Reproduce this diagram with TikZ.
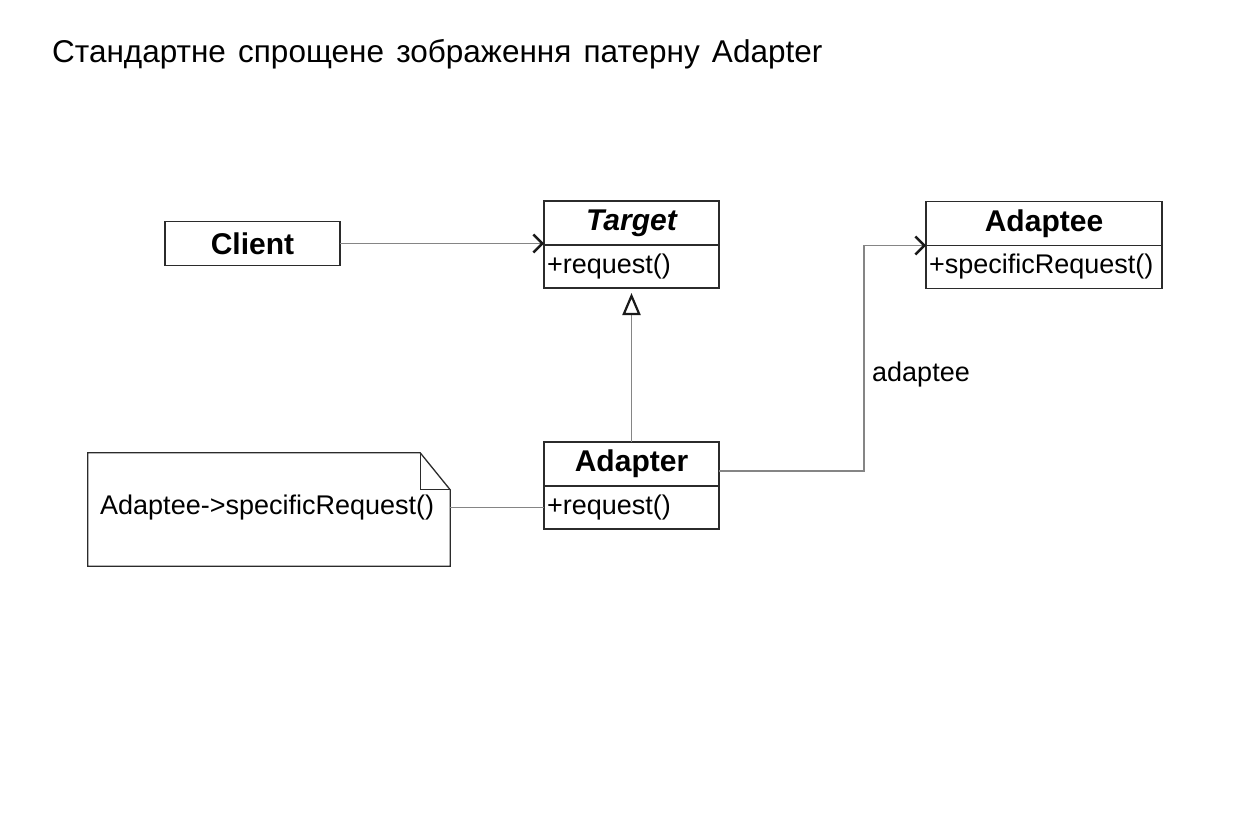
\documentclass[tikz,border=0pt]{standalone}
\usepackage{fontspec}
\setmainfont{Liberation Sans}
\newfontfamily\titlefont{Liberation Sans}[WordSpace=1.4]
\usetikzlibrary{positioning}
\usetikzlibrary{arrows.meta}
\definecolor{linegray}{HTML}{858585}
\definecolor{boxgray}{HTML}{2B2B2B}
\definecolor{tipgray}{HTML}{1A1A1A}
\tikzset {
  x=1pt, y=-1pt,
  % class name compartment
  cls/.style = {draw=boxgray, line width=1.5pt, minimum height=44pt, inner sep=0pt,
    outer sep=0pt, font=\fontsize{30}{34}\selectfont\bfseries},
  % operations compartment
  ops/.style = {draw=boxgray, line width=1.5pt, minimum height=43pt, inner sep=3pt,
    outer sep=0pt, align=left, font=\fontsize{27}{30}\selectfont},
  % connectors
  conn/.style = {linegray, line width=1.5pt},
  navig/.style = {conn, -{Straight Barb[length=9pt, width=18pt, line width=2.4pt, color=tipgray]}},
  general/.style = {conn, -{Triangle[open, length=22pt, width=18pt, line width=2.2pt, color=tipgray, fill=white]},
    shorten >=5pt},
  lbl/.style = {font=\fontsize{27}{30}\selectfont, inner sep=0pt},
}

\begin{document}
\begin{tikzpicture}
  \useasboundingbox (0,0) rectangle (1242,832);

  \node[lbl, anchor=base west, font=\titlefont\fontsize{31.5}{36}\selectfont] (title) at (52,63)
    {Стандартне спрощене зображення патерну Adapter};

  \node[cls, minimum width=175pt] (client) at (252.5,243.5) {Client};

  \node[cls, minimum width=175pt] (tgt) at (631.5,223) {\itshape Target};
  \node[ops, text width=169pt] (tgtops) [below=0pt of tgt] {+request()};

  \node[cls, minimum width=236pt] (adt) at (1044,223.5) {Adaptee};
  \node[ops, text width=230pt] (adtops) [below=0pt of adt] {+specificRequest()};

  \node[cls, minimum width=175pt] (adp) at (631.5,464) {Adapter};
  \node[ops, text width=169pt] (adpops) [below=0pt of adp] {+request()};

  % note with folded corner
  \node[lbl, minimum width=362pt, minimum height=113pt] (note) at (269,509.5) {};
  \node[lbl, anchor=west] (notetxt) at (100,508) {Adaptee->specificRequest()};
  \draw[boxgray, line width=1.3pt] (note.south west) -- (note.north west)
    -- ([xshift=-30pt]note.north east) -- ([yshift=-37pt]note.north east)
    -- (note.south east) -- cycle;
  \draw[boxgray, line width=1.3pt] ([xshift=-30pt]note.north east)
    |- ([yshift=-37pt]note.north east);

  \draw[navig] (client.east) -- (client.east -| tgt.south west);
  \draw[general] (adp.north) -- (tgtops.south);
  \draw[conn] (note.east |- adpops.west) -- (adpops.west);
  \coordinate (bend) at (864,0);
  \draw[navig] ([yshift=-7pt]adp.east) -| (bend |- adt.south west) -- (adt.south west);
  \node[lbl, anchor=base west] (role) at (872,381) {adaptee};
\end{tikzpicture}
\end{document}
